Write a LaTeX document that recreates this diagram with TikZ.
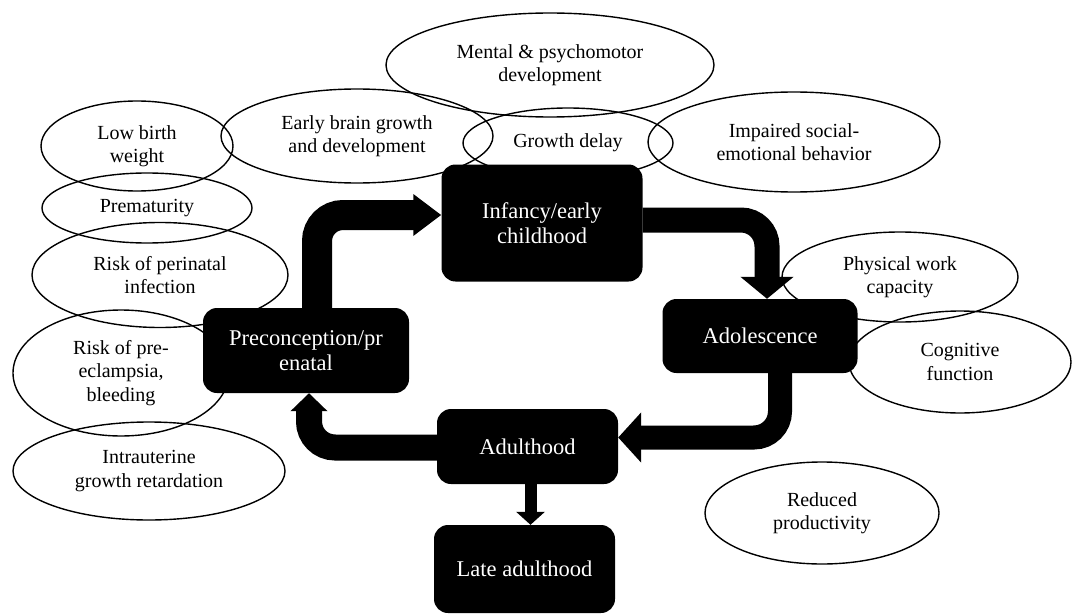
\documentclass[tikz,border=0pt]{standalone}
\usepackage{fontspec}
\setmainfont{Liberation Serif}
\usetikzlibrary{shapes.geometric}
\usetikzlibrary{arrows.meta}

\begin{document}
\begin{tikzpicture}[
                x=1pt, y=-1pt,
                stagenode/.style={rectangle, fill=black, text=white, rounded corners=14pt, inner sep=0pt, align=center, font=\fontsize{22.5}{25}\selectfont},
                effectnode/.style={ellipse, draw, line width=1.4pt, inner sep=0pt, align=center, font=\fontsize{20}{23.5}\selectfont},
                flowarrow/.style n args={3}{line width=#1, rounded corners=26pt, -{Triangle[width=#2, length=#3]}},
            ]
            \useasboundingbox (0,0) rectangle (1073,615);

            % Ellipses
            \node[effectnode, minimum width=328pt, minimum height=104pt] (mental)       at (550,65)  {Mental \& psychomotor\\development};
            \node[effectnode, minimum width=192pt, minimum height=90pt]  (lowbirth)     at (137,146) {Low birth\\weight};
            \node[effectnode, minimum width=272pt, minimum height=94pt]  (earlybrain)   at (357,136) {Early brain growth\\and development};
            \node[effectnode, minimum width=210pt, minimum height=70pt]  (growthdelay)  at (568,143) {Growth delay};
            \node[effectnode, minimum width=292pt, minimum height=100pt] (impaired)     at (794,142) {Impaired social-\\emotional behavior};
            \node[effectnode, minimum width=210pt, minimum height=70pt]  (premature)    at (147,208) {Prematurity};
            \node[effectnode, minimum width=256pt, minimum height=105pt] (perinatal)    at (160,275) {Risk of perinatal\\infection};
            \node[effectnode, minimum width=216pt, minimum height=126pt] (eclampsia)    at (121,373) {Risk of pre-\\eclampsia,\\bleeding};
            \node[effectnode, minimum width=272pt, minimum height=98pt]  (intrauterine) at (149,471) {Intrauterine\\growth retardation};
            \node[effectnode, minimum width=236pt, minimum height=90pt]  (physical)     at (900,277) {Physical work\\capacity};
            \node[effectnode, minimum width=222pt, minimum height=102pt] (cognitive)    at (960,362) {Cognitive\\function};
            \node[effectnode, minimum width=234pt, minimum height=102pt] (reduced)      at (822,513) {Reduced\\productivity};

            % Stages
            \node[stagenode, minimum width=201pt, minimum height=117pt] (infancy) at (542,223)   {Infancy/early\\childhood};
            \node[stagenode, minimum width=195pt, minimum height=74pt]  (adol)    at (760,336)   {Adolescence};
            \node[stagenode, minimum width=181pt, minimum height=75pt]  (adult)   at (527.5,446.5) {Adulthood};
            \node[stagenode, minimum width=181pt, minimum height=88pt]  (late)    at (524.5,569) {Late adulthood};
            \node[stagenode, minimum width=206pt, minimum height=85pt]  (precon)  at (306,350.5) {Preconception/pr\\enatal};

            %Arrows
            \draw[flowarrow={30pt}{40pt}{28pt}] ([xshift=11pt]precon.north) |- ([yshift=8pt]infancy.west);
            \draw[flowarrow={25pt}{52pt}{22pt}] ([yshift=3pt]infancy.east) -| ([xshift=7pt]adol.north);
            \draw[flowarrow={24pt}{49pt}{23pt}] ([xshift=20pt]adol.south) |- ([yshift=9pt]adult.east);
            \draw[flowarrow={26pt}{36pt}{18pt}] ([yshift=-1pt]adult.west) -| ([xshift=3pt]precon.south);
            \draw[flowarrow={12pt}{28pt}{13pt}] ([xshift=3pt]adult.south) -- ([xshift=3pt]adult.south |- late.north);
        \end{tikzpicture}
\end{document}
